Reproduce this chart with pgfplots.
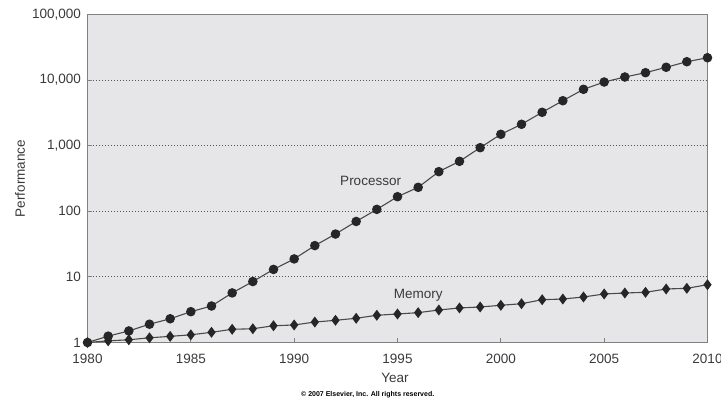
\documentclass[border=0pt]{standalone}
\usepackage{fontspec}
\setmainfont{Liberation Sans}
\usepackage{pgfplots}
\pgfplotsset{compat=1.18}
\definecolor{bg}{HTML}{E6E6E8}
\definecolor{fr}{HTML}{808080}
\definecolor{ln}{HTML}{4A4A4A}
\definecolor{mk}{HTML}{262626}
\definecolor{tx}{HTML}{3A3A3A}
\definecolor{gr}{HTML}{555555}
\begin{document}
\begin{tikzpicture}
\useasboundingbox (-87.5pt,-58.5pt) rectangle (633.5pt,342.5pt);
\begin{axis}[
 at={(0,0)}, anchor=south west,
 scale only axis, width=620pt, height=328pt,
 xmin=1980, xmax=2010, ymin=1, ymax=100000,
 ymode=log, log basis y=10,
 xtick={1980,1985,1990,1995,2000,2005,2010},
 xticklabels={1980,1985,1990,1995,2000,2005,2010},
 ytick={1,10,100,1000,10000,100000},
 yticklabels={1,10,100,{1,000},{10,000},{100,000}},
 axis background/.style={fill=bg},
 axis line style={fr, line width=1.3pt},
 ymajorgrids,
 major grid style={gr, line width=0.8pt, dash pattern=on 0.9pt off 2.1pt},
 xtick pos=bottom, ytick pos=left,
 tick align=inside,
 major tick length=5pt,
 minor tick num=0,
 tick style={fr, line width=1pt},
 tick label style={font=\fontsize{13.5}{14}\selectfont, text=tx},
 xticklabel shift=8.5pt,
 yticklabel shift=3pt,
 xlabel={Year}, ylabel={Performance},
 label style={font=\fontsize{13.5}{14}\selectfont, text=tx},
 xlabel style={at={(axis description cs:0.496,-0.109)}, anchor=center},
 ylabel style={at={(axis description cs:-0.1089,0.5)}, anchor=center},
 clip=false,
]
\addplot[ln, line width=1.1pt, mark=*, mark size=4.2pt, mark options={fill=mk, draw=mk}] coordinates {
(1980,1) (1981,1.25) (1982,1.5) (1983,1.9) (1984,2.3) (1985,2.95) (1986,3.6)
(1987,5.7) (1988,8.5) (1989,13) (1990,18.8) (1991,30) (1992,45) (1993,70)
(1994,107) (1995,167) (1996,232) (1997,402) (1998,578) (1999,933) (2000,1492)
(2001,2120) (2002,3230) (2003,4850) (2004,7240) (2005,9350) (2006,11150)
(2007,12970) (2008,15680) (2009,19070) (2010,21930)
};
\addplot[ln, line width=1.1pt, mark=diamond*, mark size=4.6pt, mark options={fill=mk, draw=mk}] coordinates {
(1980,1) (1981,1.06) (1982,1.1) (1983,1.18) (1984,1.24) (1985,1.31) (1986,1.43)
(1987,1.59) (1988,1.62) (1989,1.8) (1990,1.85) (1991,2.05) (1992,2.18) (1993,2.34)
(1994,2.6) (1995,2.72) (1996,2.85) (1997,3.13) (1998,3.36) (1999,3.48) (2000,3.69)
(2001,3.9) (2002,4.49) (2003,4.6) (2004,4.94) (2005,5.49) (2006,5.68) (2007,5.82)
(2008,6.54) (2009,6.7) (2010,7.6)
};
\node[font=\fontsize{13.5}{14}\selectfont, text=tx] at (axis cs:1993.7,290) {Processor};
\node[font=\fontsize{13.5}{14}\selectfont, text=tx] at (axis cs:1996.0,5.3) {Memory};
\node[font=\fontsize{7}{8}\selectfont\bfseries, text=black] at (axis description cs:0.452,-0.16) {\textcopyright{} 2007 Elsevier, Inc. All rights reserved.};
\end{axis}
\end{tikzpicture}
\end{document}
